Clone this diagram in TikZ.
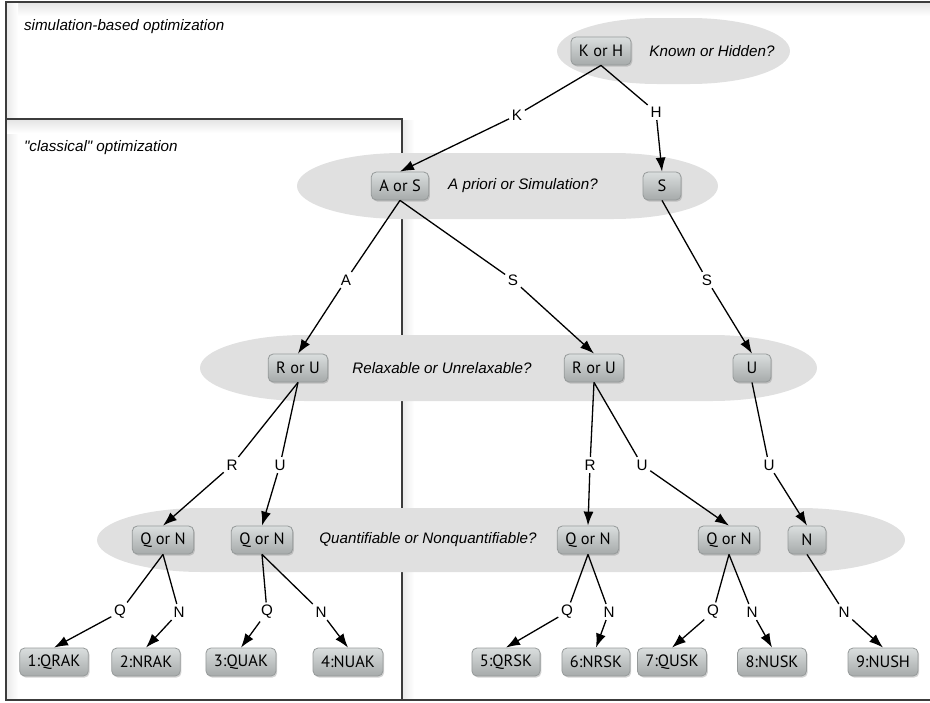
\documentclass[tikz,border=0pt]{standalone}
\usepackage{fontspec}
\setmainfont{Liberation Sans}
\newfontfamily\boxfont{PT Sans}
\usetikzlibrary{shapes,arrows.meta,positioning,shadows}
\definecolor{bandgray}{RGB}{224,224,224}
\definecolor{boxtop}{RGB}{218,222,222}
\definecolor{boxbottom}{RGB}{166,170,170}
\definecolor{boxline}{RGB}{150,154,154}
\definecolor{framegray}{RGB}{60,60,60}
\tikzset{
  choice/.style={rectangle, rounded corners=2.5pt, draw=boxline, line width=0.4pt,
    top color=boxtop, bottom color=boxbottom,
    drop shadow={shadow xshift=0.6pt, shadow yshift=-0.8pt, opacity=0.35},
    minimum height=14pt, minimum width=19pt, inner xsep=4pt,
    font=\boxfont\fontsize{8.2}{9}\selectfont},
  lbl/.style={fill=white, inner sep=1.2pt, font=\fontsize{7.6}{9}\selectfont},
  question/.style={font=\itshape\fontsize{7.6}{9}\selectfont},
  branch/.style={line width=0.65pt},
  arrowto/.style={branch, -{Latex[length=7pt,width=5pt]}}
}

\begin{document}
\begin{tikzpicture}[x=0.5pt,y=0.5pt]
    \useasboundingbox (0,0) rectangle (930,-702);

    % Frames with soft inner shadow
    \shade[top color=black!10, bottom color=white] (7,-3) rectangle (930,-16);
    \shade[left color=black!8, right color=white] (7,-3) rectangle (18,-699);
    \shade[top color=black!10, bottom color=white] (7,-120) rectangle (401,-133);
    \shade[left color=black!8, right color=white] (403,-120) rectangle (414,-699);
    \draw[framegray, line width=1pt] (6,-2) rectangle (940,-700);
    \draw[framegray, line width=1pt] (6,-119) rectangle (402,-700);
    \node[question, anchor=west] (simopt) at (17,-27) {simulation-based optimization};
    \node[question, anchor=west] (classopt) at (17,-148) {\textquotedbl classical\textquotedbl{} optimization};

    % Bands
    \fill[bandgray] (657,-18) -- (690,-18) arc[start angle=90, end angle=-90, x radius=100, y radius=33]
        -- (657,-84) arc[start angle=270, end angle=90, x radius=100, y radius=33] -- cycle;
    \fill[bandgray] (402,-153) -- (613,-153) arc[start angle=90, end angle=-90, x radius=105, y radius=33]
        -- (402,-219) arc[start angle=270, end angle=90, x radius=105, y radius=33] -- cycle;
    \fill[bandgray] (305,-335) -- (712,-335) arc[start angle=90, end angle=-90, x radius=105, y radius=33]
        -- (305,-401) arc[start angle=270, end angle=90, x radius=105, y radius=33] -- cycle;
    \fill[bandgray] (202,-508) -- (800,-508) arc[start angle=90, end angle=-90, x radius=105, y radius=32]
        -- (202,-572) arc[start angle=270, end angle=90, x radius=105, y radius=32] -- cycle;

    % Questions
    \node[question] (qkh) at (712,-51) {Known or Hidden?};
    \node[question] (qas) at (523,-186) {A priori or Simulation?};
    \node[question] (qru) at (442,-368) {Relaxable or Unrelaxable?};
    \node[question] (qqn) at (428,-540) {Quantifiable or Nonquantifiable?};

    % Level 1
    \node[choice] (kh) at (601,-51) {K or H};

    % Level 2
    \node[choice] (as) at (400,-186) {A or S};
    \node[choice] (s) at (662,-186) {S};

    % Level 3
    \node[choice] (ruA) at (298,-368) {R or U};
    \node[choice] (ruS) at (594,-368) {R or U};
    \node[choice] (u) at (752,-368) {U};

    % Level 4
    \node[choice] (qnR) at (163,-540) {Q or N};
    \node[choice] (qnU) at (262,-540) {Q or N};
    \node[choice] (qnRS) at (588,-540) {Q or N};
    \node[choice] (qnUS) at (729,-540) {Q or N};
    \node[choice] (n) at (807,-540) {N};

    % Leaves
    \node[choice] (qrak) at (54,-662) {1:QRAK};
    \node[choice] (nrak) at (146,-662) {2:NRAK};
    \node[choice] (quak) at (241,-662) {3:QUAK};
    \node[choice] (nuak) at (348,-662) {4:NUAK};
    \node[choice] (qrsk) at (506,-662) {5:QRSK};
    \node[choice] (nrsk) at (596,-662) {6:NRSK};
    \node[choice] (qusk) at (672,-662) {7:QUSK};
    \node[choice] (nusk) at (772,-662) {8:NUSK};
    \node[choice] (nush) at (883,-662) {9:NUSH};

    % Branch labels
    \node[lbl] (lK) at (517,-115) {K};
    \node[lbl] (lH) at (656,-112) {H};
    \node[lbl] (lA) at (346,-280) {A};
    \node[lbl] (lS) at (513,-280) {S};
    \node[lbl] (lSS) at (707,-280) {S};
    \node[lbl] (lR) at (232,-465) {R};
    \node[lbl] (lU) at (280,-465) {U};
    \node[lbl] (lRS) at (590,-465) {R};
    \node[lbl] (lUS) at (642,-465) {U};
    \node[lbl] (lUH) at (769,-465) {U};
    \node[lbl] (lQ1) at (120,-612) {Q};
    \node[lbl] (lN1) at (179,-612) {N};
    \node[lbl] (lQ2) at (267,-612) {Q};
    \node[lbl] (lN2) at (321,-612) {N};
    \node[lbl] (lQ3) at (567,-612) {Q};
    \node[lbl] (lN3) at (609,-612) {N};
    \node[lbl] (lQ4) at (713,-612) {Q};
    \node[lbl] (lN4) at (752,-612) {N};
    \node[lbl] (lN5) at (844,-612) {N};

    % Branches
    \draw[branch] (kh.south) -- (lK);  \draw[arrowto] (lK) -- (as.north);
    \draw[branch] (kh.south) -- (lH);  \draw[arrowto] (lH) -- (s.north);

    \draw[branch] (as.south) -- (lA);  \draw[arrowto] (lA) -- (ruA.north);
    \draw[branch] (as.south) -- (lS);  \draw[arrowto] (lS) -- (ruS.north);
    \draw[branch] (s.south) -- (lSS);  \draw[arrowto] (lSS) -- (u.north);

    \draw[branch] (ruA.south) -- (lR);  \draw[arrowto] (lR) -- (qnR.north);
    \draw[branch] (ruA.south) -- (lU);  \draw[arrowto] (lU) -- (qnU.north);
    \draw[branch] (ruS.south) -- (lRS); \draw[arrowto] (lRS) -- (qnRS.north);
    \draw[branch] (ruS.south) -- (lUS); \draw[arrowto] (lUS) -- (qnUS.north);
    \draw[branch] (u.south) -- (lUH);   \draw[arrowto] (lUH) -- (n.north);

    \draw[branch] (qnR.south) -- (lQ1);  \draw[arrowto] (lQ1) -- (qrak.north);
    \draw[branch] (qnR.south) -- (lN1);  \draw[arrowto] (lN1) -- (nrak.north);
    \draw[branch] (qnU.south) -- (lQ2);  \draw[arrowto] (lQ2) -- (quak.north);
    \draw[branch] (qnU.south) -- (lN2);  \draw[arrowto] (lN2) -- (nuak.north);
    \draw[branch] (qnRS.south) -- (lQ3); \draw[arrowto] (lQ3) -- (qrsk.north);
    \draw[branch] (qnRS.south) -- (lN3); \draw[arrowto] (lN3) -- (nrsk.north);
    \draw[branch] (qnUS.south) -- (lQ4); \draw[arrowto] (lQ4) -- (qusk.north);
    \draw[branch] (qnUS.south) -- (lN4); \draw[arrowto] (lN4) -- (nusk.north);
    \draw[branch] (n.south) -- (lN5);    \draw[arrowto] (lN5) -- (nush.north);
\end{tikzpicture}
\end{document}
